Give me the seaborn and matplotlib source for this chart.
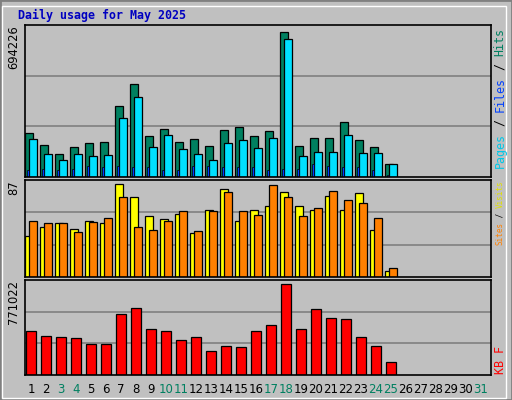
import numpy as np
import pandas as pd
import matplotlib
matplotlib.use("Agg")
import matplotlib.pyplot as plt
import seaborn as sns
from matplotlib.patches import Rectangle

days = list(range(1, 26))
weekend_days = [3, 4, 10, 11, 17, 18, 24, 25, 31]
max_hits = 694226
max_visits = 87
max_kb = 771022

hits_frac = [0.294, 0.215, 0.156, 0.202, 0.228, 0.235, 0.478, 0.623, 0.274, 0.320, 0.235, 0.255, 0.209,
             0.314, 0.334, 0.274, 0.307, 0.972, 0.209, 0.261, 0.261, 0.366, 0.248, 0.202, 0.090]
files_frac = [0.255, 0.156, 0.116, 0.156, 0.143, 0.149, 0.393, 0.537, 0.202, 0.281, 0.189, 0.156, 0.116,
              0.228, 0.248, 0.195, 0.261, 0.926, 0.143, 0.169, 0.169, 0.281, 0.162, 0.162, 0.090]
pages_frac = [0.044, 0.057, 0.044, 0.051, 0.077, 0.070, 0.077, 0.070, 0.064, 0.044, 0.044, 0.077, 0.077,
              0.070, 0.070, 0.064, 0.044, 0.051, 0.057, 0.084, 0.077, 0.070, 0.064, 0.044, 0.011]
visits = [36.4, 44.6, 48.2, 42.7, 50.0, 48.2, 83.4, 71.6, 54.5, 51.8, 56.3, 39.1, 59.9,
          78.9, 50.0, 59.9, 63.5, 76.2, 63.5, 59.9, 72.5, 59.9, 75.3, 41.8, 5.7]
sites = [50.0, 48.2, 48.2, 40.0, 49.1, 52.7, 71.6, 44.6, 41.8, 50.0, 59.0, 40.9, 59.0,
         76.2, 59.0, 55.4, 82.5, 71.6, 54.5, 61.7, 77.1, 68.9, 66.2, 52.7, 8.4]
kb_frac = [0.463, 0.411, 0.400, 0.389, 0.326, 0.326, 0.642, 0.705, 0.484, 0.463, 0.368, 0.400, 0.253,
           0.305, 0.295, 0.463, 0.526, 0.958, 0.484, 0.695, 0.600, 0.589, 0.400, 0.305, 0.137]

hits = [f * max_hits for f in hits_frac]
files = [f * max_hits for f in files_frac]
pages = [f * max_hits for f in pages_frac]
kb = [f * max_kb for f in kb_frac]

BG = "#C0C0C0"
W, H = 512, 400
fig = plt.figure(figsize=(W / 100, H / 100), dpi=100, facecolor=BG)

fig.patches.append(Rectangle((0, 0), 1, 1, transform=fig.transFigure, fill=False, edgecolor="#808080", lw=2))
fig.patches.append(Rectangle((2 / W, 2 / H), 1 - 8 / W, 1 - 8 / H, transform=fig.transFigure,
                             fill=False, edgecolor="white", lw=1))

def mkax(top, bottom):
    ax = fig.add_axes([25 / W, 1 - bottom / H, 466 / W, (bottom - top) / H])
    ax.set_facecolor(BG)
    for s in ax.spines.values():
        s.set_color("black")
        s.set_linewidth(1.2)
    return ax

d = np.array(days, dtype=float)
EC = "black"
LW = 0.9

ax1 = mkax(25, 177)
sns.barplot(x=d - 0.13, y=hits, native_scale=True, width=0.52, color="#008060", saturation=1,
            edgecolor=EC, linewidth=LW, ax=ax1)
sns.barplot(x=d + 0.13, y=files, native_scale=True, width=0.52, color="#00E0FF", saturation=1,
            edgecolor=EC, linewidth=LW, ax=ax1)
sns.barplot(x=d - 0.22, y=pages, native_scale=True, width=0.13, color="#0040FF", saturation=1,
            edgecolor=EC, linewidth=0.5, ax=ax1)
ax1.set_ylim(0, max_hits * 1.02)

ax2 = mkax(180, 277)
sns.barplot(x=d - 0.13, y=visits, native_scale=True, width=0.52, color="#FFFF00", saturation=1,
            edgecolor=EC, linewidth=LW, ax=ax2)
sns.barplot(x=d + 0.13, y=sites, native_scale=True, width=0.52, color="#FF8000", saturation=1,
            edgecolor=EC, linewidth=LW, ax=ax2)
ax2.set_ylim(0, max_visits)

ax3 = mkax(280, 375)
sns.barplot(x=d, y=kb, native_scale=True, width=0.65, color="#FF0000", saturation=1,
            edgecolor=EC, linewidth=LW, ax=ax3)
ax3.set_ylim(0, max_kb)

for ax, m in [(ax1, max_hits * 1.02), (ax2, max_visits), (ax3, max_kb)]:
    for fr in (1 / 3, 2 / 3):
        ax.axhline(m * fr, color="#808080", lw=1.2, zorder=0)
    ax.set_xlim(0.6, 31.67)
    ax.set_yticks([])
    ax.set_ylabel("")
    ax.set_xlabel("")
    ax.set_axisbelow(True)

for ax in (ax1, ax2):
    ax.set_xticks([])
all_days = list(range(1, 32))
ax3.set_xticks(all_days)
ax3.set_xticklabels([str(x) for x in all_days], fontsize=8.5, family="DejaVu Sans")
ax3.tick_params(axis="x", length=0, pad=6)
for lbl, dd in zip(ax3.get_xticklabels(), all_days):
    lbl.set_color("#008060" if dd in weekend_days else "black")

mono = "DejaVu Sans Mono"
fig.text(18 / W, 1 - 15 / H, "Daily usage for May 2025", color="#0000C0", fontsize=8.4,
         family=mono, fontweight="bold", va="center", ha="left")

for txt, ytop in [("694226", 25), ("87", 180), ("771022", 280)]:
    fig.text(14 / W, 1 - ytop / H, txt, rotation=90, fontsize=8.3, family="DejaVu Sans",
             ha="center", va="top")

renderer = fig.canvas.get_renderer()

def vlabel(pieces, ybottom, ytop, x=500):
    # measure total length, then scale font so it fits between ybottom and ytop
    fs = 8.4
    full = "".join(p for p, _ in pieces)
    t = fig.text(0, 0, full, rotation=90, fontsize=fs, family=mono)
    h = t.get_window_extent(renderer).height
    t.remove()
    fs = fs * min(1.0, (ybottom - ytop) / h)
    t = fig.text(0, 0, full, rotation=90, fontsize=fs, family=mono)
    h = t.get_window_extent(renderer).height
    t.remove()
    per_char = h / len(full)
    y = ybottom
    for txt, col in pieces:
        fig.text(x / W, 1 - y / H, txt, rotation=90, color=col, fontsize=fs, family=mono,
                 ha="center", va="bottom", rotation_mode="default")
        y -= per_char * len(txt)

vlabel([("Pages", "#00C8E8"), (" / ", "black"), ("Files", "#0040FF"), (" / ", "black"),
        ("Hits", "#008060")], 168, 28)
vlabel([("Sites", "#FF8000"), (" / ", "black"), ("Visits", "#E0E000")], 245, 181)
vlabel([("KB F", "#FF0000")], 374, 345)

fig.savefig("out.png", dpi=100, facecolor=BG)
